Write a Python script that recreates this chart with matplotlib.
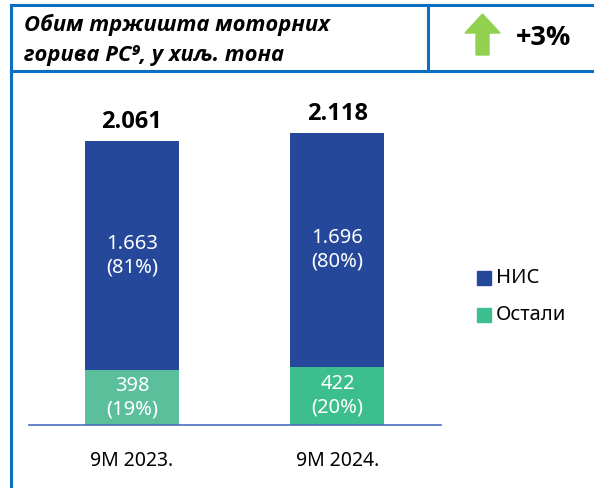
import matplotlib
matplotlib.use("Agg")
import matplotlib.pyplot as plt
from matplotlib.lines import Line2D
from matplotlib.patches import Polygon, Rectangle

plt.rcParams['font.family'] = ['Noto Sans', 'DejaVu Sans']
BOLD = ['Open Sans', 'DejaVu Sans']

periods = ["9M 2023.", "9M 2024."]
nis = [1663, 1696]
ostali = [398, 422]
nis_share = [81, 80]
ostali_share = [19, 20]
series_names = ["НИС", "Остали"]
title_lines = ["Обим тржишта моторних", "горива PC⁹, у хиљ. тона"]
change_label = "+3%"

W, H = 594, 488
blue_nis = "#25489a"
green_ostali = ["#5cbf9b", "#3cbe8f"]
frame_col = "#0a6fc2"

fig = plt.figure(figsize=(W / 100, H / 100), dpi=100)


def fx(px):
    return px / W


def fy(py):
    return 1 - py / H


# frame around the chart
for xs, ys in [((11, W), (5, 5)), ((11, W), (71, 71)), ((11, 11), (5, H)), ((428, 428), (5, 71))]:
    fig.add_artist(Line2D([fx(x) for x in xs], [fy(y) for y in ys], color=frame_col, lw=2.2))

fig.text(fx(24), fy(25), title_lines[0], fontsize=15.8, fontweight="bold", style="italic",
         va="center", family=BOLD)
fig.text(fx(24), fy(55), title_lines[1], fontsize=15.8, fontweight="bold", style="italic",
         va="center", family=BOLD)

# green arrow
arrow = [(465, 33), (482.5, 14), (500, 33), (489, 33), (489, 55), (476, 55), (476, 33)]
fig.add_artist(Polygon([(fx(x), fy(y)) for x, y in arrow], closed=True, color="#92d050",
                       transform=fig.transFigure))
fig.text(fx(516), fy(38), change_label, fontsize=19.5, fontweight="bold", va="center", family=BOLD)

# bar axes
ax = fig.add_axes([fx(29), fy(425), fx(441) - fx(29), fy(100) - fy(425)])
ax.set_xlim(-0.501, 1.504)
ax.set_ylim(0, 2358)
x = list(range(len(periods)))
width = 0.457
ax.bar(x, ostali, width, color=green_ostali, zorder=2)
ax.bar(x, nis, width, bottom=ostali, color=blue_nis, zorder=2)

for i in x:
    ax.text(i, ostali[i] / 2, f"{ostali[i]}\n({ostali_share[i]}%)", ha="center", va="center",
            color="white", fontsize=14.5, linespacing=1.25)
    ax.text(i, ostali[i] + nis[i] / 2, f"{nis[i] / 1000:.3f}\n({nis_share[i]}%)", ha="center",
            va="center", color="white", fontsize=14.5, linespacing=1.25)
    total = ostali[i] + nis[i]
    ax.annotate(f"{total / 1000:.3f}", (i, total), xytext=(0, 5), textcoords="offset points",
                ha="center", va="bottom", fontsize=17, fontweight="bold", family=BOLD)

for s in ["top", "right", "left"]:
    ax.spines[s].set_visible(False)
ax.spines["bottom"].set_color("#4a6cc0")
ax.spines["bottom"].set_linewidth(1.2)
ax.set_yticks([])
ax.set_xticks(x)
ax.set_xticklabels(periods, fontsize=14)
ax.tick_params(axis="x", length=0, pad=19)

# legend
for (py, col, name) in [(271, blue_nis, series_names[0]), (308, green_ostali[1], series_names[1])]:
    fig.add_artist(Rectangle((fx(477), fy(py + 14)), fx(14), 14 / H, color=col,
                             transform=fig.transFigure))
    fig.text(fx(496), fy(py + 7), name, fontsize=14.5, va="center")

fig.savefig("out.png", dpi=100)
